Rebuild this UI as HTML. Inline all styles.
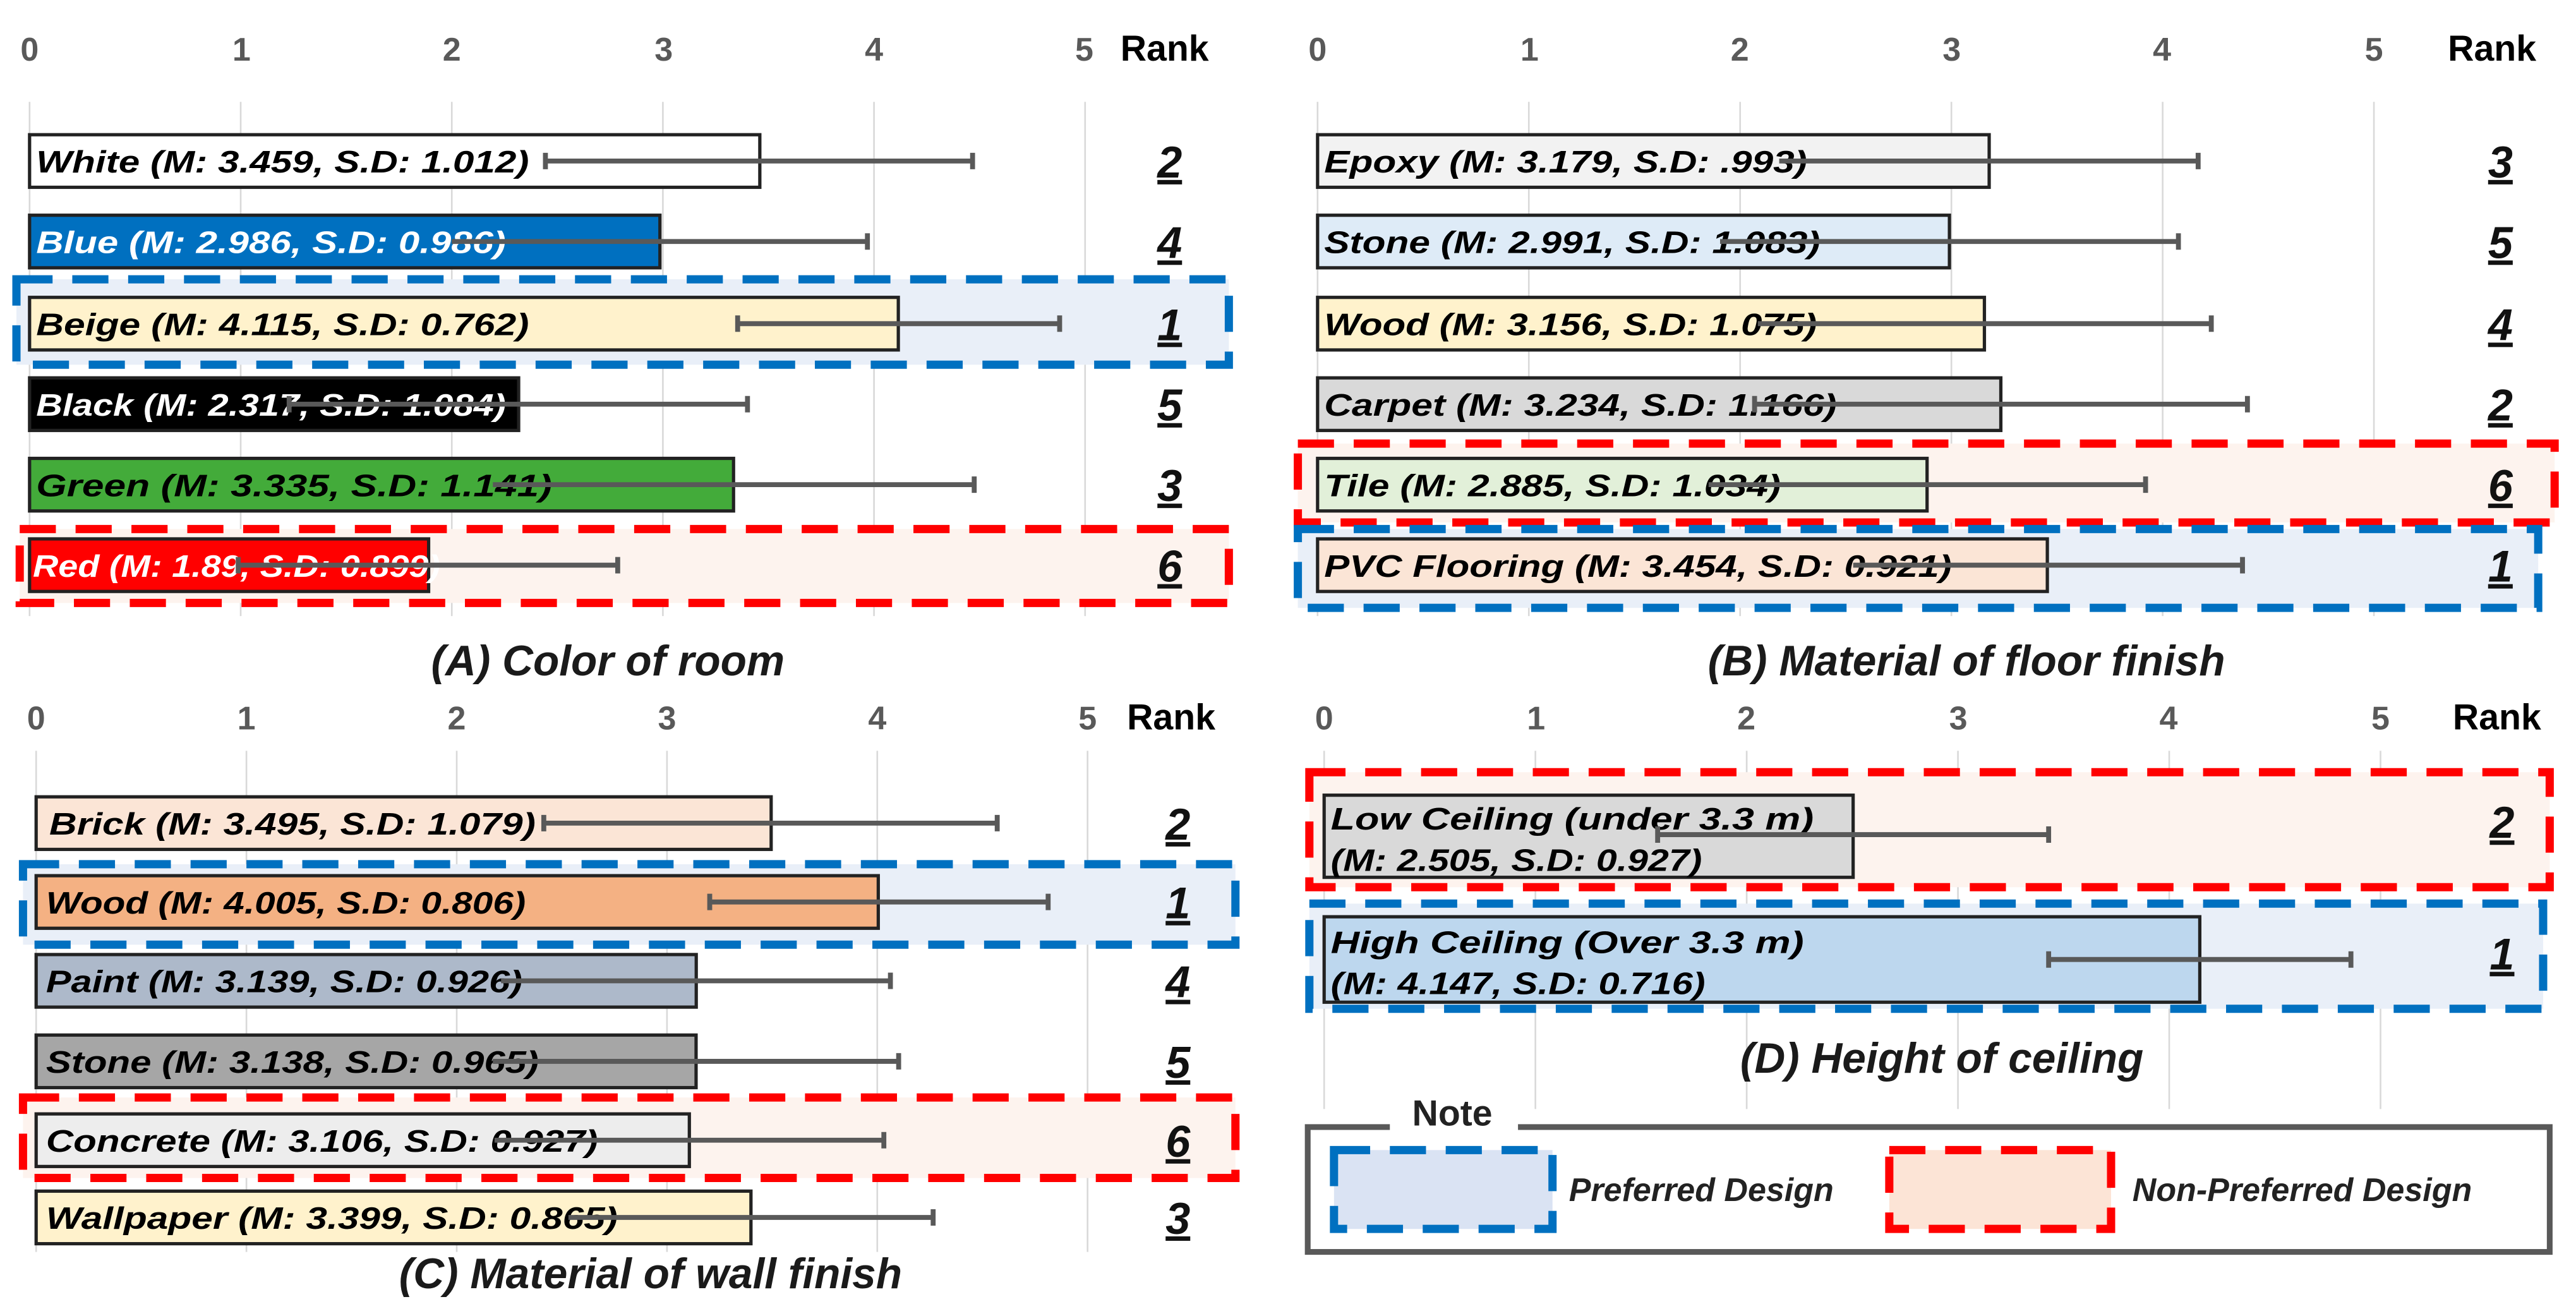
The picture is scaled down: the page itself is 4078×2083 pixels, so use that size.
<!DOCTYPE html>
<html><head><meta charset="utf-8"><style>
html,body{margin:0;padding:0;background:#fff;width:4078px;height:2083px;overflow:hidden}
svg{display:block}
text{font-family:"Liberation Sans",Arial,sans-serif;font-weight:bold;font-style:italic}
.ax{font-size:20px;fill:#595959}
.ax text{font-style:normal}
.rk{font-size:22px;fill:#000;font-style:normal}
.lb{font-size:19px}
.rn{font-size:27px;text-decoration:underline;fill:#111}
.tt{font-size:26px;fill:#1a1a1a}
.g{stroke:#d9d9d9;stroke-width:1}
.bar{stroke:#222;stroke-width:2}
.e{stroke:#595959;stroke-width:3}
.bb{fill:#e9eff8;stroke:#0070c0;stroke-width:5;stroke-dasharray:22 12}
.rb{fill:#fdf3ee;stroke:#ff0000;stroke-width:5;stroke-dasharray:22 12}
</style></head><body>
<svg width="4078" height="2083" viewBox="0 0 1568 801" preserveAspectRatio="none" xmlns="http://www.w3.org/2000/svg">
<!-- Panel A -->
<g>
<g class="g"><line x1="18" y1="62" x2="18" y2="375"/><line x1="146.5" y1="62" x2="146.5" y2="375"/><line x1="275" y1="62" x2="275" y2="375"/><line x1="403.5" y1="62" x2="403.5" y2="375"/><line x1="532" y1="62" x2="532" y2="375"/><line x1="660.5" y1="62" x2="660.5" y2="375"/></g>
<g class="ax" text-anchor="middle"><text x="18" y="37">0</text><text x="147" y="37">1</text><text x="275" y="37">2</text><text x="404" y="37">3</text><text x="532" y="37">4</text><text x="660" y="37">5</text></g>
<text class="rk" x="682" y="37">Rank</text>
<rect class="bb" x="10" y="170" width="738" height="52"/>
<rect class="rb" x="12" y="322" width="736" height="45"/>
<rect class="bar" x="18" y="82" width="444.5" height="32" fill="#fff"/>
<rect class="bar" x="18" y="131" width="383.7" height="32" fill="#0070c0"/>
<rect class="bar" x="18" y="181" width="528.8" height="32" fill="#fff2cc"/>
<rect class="bar" x="18" y="230" width="297.7" height="32" fill="#000"/>
<rect class="bar" x="18" y="279" width="428.5" height="32" fill="#43ab3a"/>
<rect class="bar" x="18" y="328" width="242.9" height="32" fill="#ff0000"/>
<text class="lb" x="22" y="105" textLength="300" lengthAdjust="spacingAndGlyphs">White (M: 3.459, S.D: 1.012)</text>
<text class="lb" x="22" y="154" fill="#fff" textLength="286" lengthAdjust="spacingAndGlyphs">Blue (M: 2.986, S.D: 0.986)</text>
<text class="lb" x="22" y="204" textLength="300" lengthAdjust="spacingAndGlyphs">Beige (M: 4.115, S.D: 0.762)</text>
<text class="lb" x="22" y="253" fill="#fff" textLength="286" lengthAdjust="spacingAndGlyphs">Black (M: 2.317, S.D: 1.084)</text>
<text class="lb" x="22" y="302" textLength="314" lengthAdjust="spacingAndGlyphs">Green (M: 3.335, S.D: 1.141)</text>
<text class="lb" x="20" y="351" fill="#fff" textLength="248" lengthAdjust="spacingAndGlyphs">Red (M: 1.89, S.D: 0.899)</text>
<g class="e">
<path d="M332 98H592M332 93V103M592 93V103"/>
<path d="M275 147H528M528 142V152"/>
<path d="M449 197H645M449 192V202M645 192V202"/>
<path d="M176 246H455M176 241V251M455 241V251"/>
<path d="M300 295H593M593 290V300"/>
<path d="M145 344H376M145 339V349M376 339V349"/>
</g>
<g class="rn" text-anchor="middle"><text x="712" y="108">2</text><text x="712" y="157">4</text><text x="712" y="207">1</text><text x="712" y="256">5</text><text x="712" y="305">3</text><text x="712" y="354">6</text></g>
<text class="tt" x="370" y="411" text-anchor="middle">(A) Color of room</text>
</g>
<!-- Panel B -->
<g>
<g class="g"><line x1="802" y1="62" x2="802" y2="375"/><line x1="930.6" y1="62" x2="930.6" y2="375"/><line x1="1059.2" y1="62" x2="1059.2" y2="375"/><line x1="1187.8" y1="62" x2="1187.8" y2="375"/><line x1="1316.4" y1="62" x2="1316.4" y2="375"/><line x1="1445" y1="62" x2="1445" y2="375"/></g>
<g class="ax" text-anchor="middle"><text x="802" y="37">0</text><text x="931" y="37">1</text><text x="1059" y="37">2</text><text x="1188" y="37">3</text><text x="1316" y="37">4</text><text x="1445" y="37">5</text></g>
<text class="rk" x="1490" y="37">Rank</text>
<rect class="rb" x="790" y="270" width="765" height="48"/>
<rect class="bb" x="790" y="322" width="755" height="48"/>
<rect class="bar" x="802" y="82" width="408.8" height="32" fill="#f2f2f2"/>
<rect class="bar" x="802" y="131" width="384.6" height="32" fill="#deebf7"/>
<rect class="bar" x="802" y="181" width="405.9" height="32" fill="#fff2cc"/>
<rect class="bar" x="802" y="230" width="415.9" height="32" fill="#d9d9d9"/>
<rect class="bar" x="802" y="279" width="371" height="32" fill="#e2f0d9"/>
<rect class="bar" x="802" y="328" width="444.2" height="32" fill="#fbe5d6"/>
<text class="lb" x="806" y="105" textLength="294" lengthAdjust="spacingAndGlyphs">Epoxy (M: 3.179, S.D: .993)</text>
<text class="lb" x="806" y="154" textLength="302" lengthAdjust="spacingAndGlyphs">Stone (M: 2.991, S.D: 1.083)</text>
<text class="lb" x="806" y="204" textLength="300" lengthAdjust="spacingAndGlyphs">Wood (M: 3.156, S.D: 1.075)</text>
<text class="lb" x="806" y="253" textLength="312" lengthAdjust="spacingAndGlyphs">Carpet (M: 3.234, S.D: 1.166)</text>
<text class="lb" x="806" y="302" textLength="278" lengthAdjust="spacingAndGlyphs">Tile (M: 2.885, S.D: 1.034)</text>
<text class="lb" x="806" y="351" textLength="382" lengthAdjust="spacingAndGlyphs">PVC Flooring  (M: 3.454, S.D: 0.921)</text>
<g class="e">
<path d="M1083 98H1338M1338 93V103"/>
<path d="M1047 147H1326M1326 142V152"/>
<path d="M1070 197H1346M1346 192V202"/>
<path d="M1068 246H1368M1068 241V251M1368 241V251"/>
<path d="M1040 295H1306M1306 290V300"/>
<path d="M1128 344H1365M1365 339V349"/>
</g>
<g class="rn" text-anchor="middle"><text x="1522" y="108">3</text><text x="1522" y="157">5</text><text x="1522" y="207">4</text><text x="1522" y="256">2</text><text x="1522" y="305">6</text><text x="1522" y="354">1</text></g>
<text class="tt" x="1197" y="411" text-anchor="middle">(B) Material of floor finish</text>
</g>
<!-- Panel C -->
<g>
<g class="g"><line x1="22" y1="457" x2="22" y2="762"/><line x1="150" y1="457" x2="150" y2="762"/><line x1="278" y1="457" x2="278" y2="762"/><line x1="406" y1="457" x2="406" y2="762"/><line x1="534" y1="457" x2="534" y2="762"/><line x1="662" y1="457" x2="662" y2="762"/></g>
<g class="ax" text-anchor="middle"><text x="22" y="444">0</text><text x="150" y="444">1</text><text x="278" y="444">2</text><text x="406" y="444">3</text><text x="534" y="444">4</text><text x="662" y="444">5</text></g>
<text class="rk" x="686" y="444">Rank</text>
<rect class="bb" x="14" y="526" width="738" height="49"/>
<rect class="rb" x="14" y="668" width="738" height="49"/>
<rect class="bar" x="22" y="485" width="447.4" height="32" fill="#fbe5d6"/>
<rect class="bar" x="22" y="533" width="512.6" height="32" fill="#f4b183"/>
<rect class="bar" x="22" y="581" width="401.8" height="32" fill="#adb9ca"/>
<rect class="bar" x="22" y="630" width="401.7" height="32" fill="#a6a6a6"/>
<rect class="bar" x="22" y="678" width="397.6" height="32" fill="#ededed"/>
<rect class="bar" x="22" y="725" width="435.1" height="32" fill="#fff2cc"/>
<text class="lb" x="30" y="508" textLength="296" lengthAdjust="spacingAndGlyphs">Brick (M: 3.495, S.D: 1.079)</text>
<text class="lb" x="28" y="556" textLength="292" lengthAdjust="spacingAndGlyphs">Wood (M: 4.005, S.D: 0.806)</text>
<text class="lb" x="28" y="604" textLength="290" lengthAdjust="spacingAndGlyphs">Paint (M: 3.139, S.D: 0.926)</text>
<text class="lb" x="28" y="653" textLength="300" lengthAdjust="spacingAndGlyphs">Stone (M: 3.138, S.D: 0.965)</text>
<text class="lb" x="28" y="701" textLength="336" lengthAdjust="spacingAndGlyphs">Concrete (M: 3.106, S.D: 0.927)</text>
<text class="lb" x="28" y="748" textLength="348" lengthAdjust="spacingAndGlyphs">Wallpaper  (M: 3.399, S.D: 0.865)</text>
<g class="e">
<path d="M331 501H607M331 496V506M607 496V506"/>
<path d="M432 549H638M432 544V554M638 544V554"/>
<path d="M305 597H542M542 592V602"/>
<path d="M300 646H547M547 641V651"/>
<path d="M301 694H538M538 689V699"/>
<path d="M346 741H568M568 736V746"/>
</g>
<g class="rn" text-anchor="middle"><text x="717" y="511">2</text><text x="717" y="559">1</text><text x="717" y="607">4</text><text x="717" y="656">5</text><text x="717" y="704">6</text><text x="717" y="751">3</text></g>
<text class="tt" x="396" y="784" text-anchor="middle">(C) Material of wall finish</text>
</g>
<!-- Panel D -->
<g>
<g class="g"><line x1="806" y1="457" x2="806" y2="675"/><line x1="934.6" y1="457" x2="934.6" y2="675"/><line x1="1063.2" y1="457" x2="1063.2" y2="675"/><line x1="1191.8" y1="457" x2="1191.8" y2="675"/><line x1="1320.4" y1="457" x2="1320.4" y2="675"/><line x1="1449" y1="457" x2="1449" y2="675"/></g>
<g class="ax" text-anchor="middle"><text x="806" y="444">0</text><text x="935" y="444">1</text><text x="1063" y="444">2</text><text x="1192" y="444">3</text><text x="1320" y="444">4</text><text x="1449" y="444">5</text></g>
<text class="rk" x="1493" y="444">Rank</text>
<rect class="rb" x="797" y="470" width="755" height="70"/>
<rect class="bb" x="797" y="550" width="751" height="64"/>
<rect class="bar" x="806" y="484" width="322" height="50" fill="#d9d9d9"/>
<rect class="bar" x="806" y="558" width="533" height="52" fill="#bdd7ee"/>
<text class="lb" x="810" y="505" textLength="294" lengthAdjust="spacingAndGlyphs">Low Ceiling  (under 3.3 m)</text>
<text class="lb" x="810" y="530" textLength="226" lengthAdjust="spacingAndGlyphs">(M: 2.505, S.D: 0.927)</text>
<text class="lb" x="810" y="580" textLength="288" lengthAdjust="spacingAndGlyphs">High Ceiling (Over 3.3 m)</text>
<text class="lb" x="810" y="605" textLength="228" lengthAdjust="spacingAndGlyphs">(M: 4.147, S.D: 0.716)</text>
<g class="e">
<path d="M1009 508H1247M1009 503V513M1247 503V513"/>
<path d="M1247 584H1431M1247 579V589M1431 579V589"/>
</g>
<g class="rn" text-anchor="middle"><text x="1523" y="510">2</text><text x="1523" y="590">1</text></g>
<text class="tt" x="1182" y="653" text-anchor="middle">(D) Height of ceiling</text>
<rect x="796" y="686" width="756" height="76" fill="none" stroke="#595959" stroke-width="3.5"/>
<rect x="846" y="668" width="78" height="26" fill="#fff"/>
<text x="884" y="685" text-anchor="middle" style="font-size:22px;font-style:normal" fill="#222">Note</text>
<rect class="bb" x="812" y="700" width="133" height="48" style="fill:#dae3f3"/>
<text x="955" y="731" style="font-size:20px" fill="#222">Preferred Design</text>
<rect class="rb" x="1150" y="700" width="135" height="48" style="fill:#fce4d6"/>
<text x="1298" y="731" style="font-size:20px" fill="#222">Non-Preferred Design</text>
</g>
</svg>
</body></html>
